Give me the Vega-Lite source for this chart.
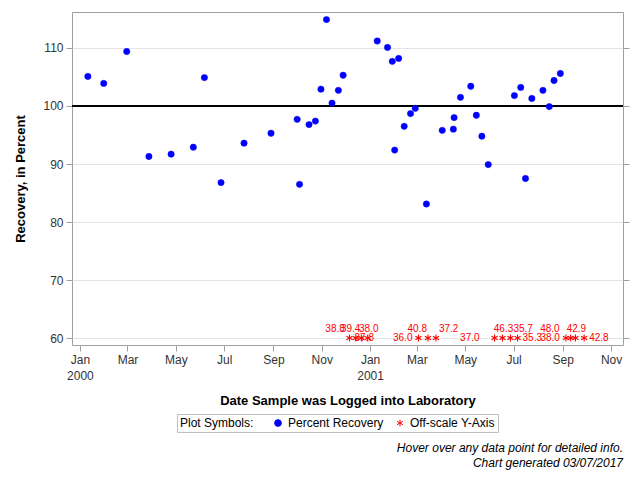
{
  "$schema": "https://vega.github.io/schema/vega-lite/v6.json",
  "width": 551,
  "height": 333,
  "autosize": {"type": "none"},
  "padding": {"left": 72, "top": 12, "right": 17, "bottom": 135},
  "background": "white",
  "title": {
    "text": "Hover over any data point for detailed info.",
    "subtitle": "Chart generated 03/07/2017",
    "orient": "bottom",
    "anchor": "end",
    "frame": "group",
    "font": "Liberation Sans",
    "fontStyle": "italic",
    "fontWeight": "normal",
    "fontSize": 12,
    "color": "black",
    "subtitleFont": "Liberation Sans",
    "subtitleFontStyle": "italic",
    "subtitleFontSize": 12,
    "subtitleColor": "black",
    "subtitlePadding": 3,
    "offset": 10
  },
  "data": {
    "format": {"parse": {"date": "date:'%Y-%m-%d'"}},
    "values": [
      {"date": "2000-01-11", "value": 105.1, "type": "Percent Recovery"},
      {"date": "2000-01-31", "value": 103.9, "type": "Percent Recovery"},
      {"date": "2000-02-29", "value": 109.4, "type": "Percent Recovery"},
      {"date": "2000-03-28", "value": 91.3, "type": "Percent Recovery"},
      {"date": "2000-04-25", "value": 91.7, "type": "Percent Recovery"},
      {"date": "2000-05-23", "value": 92.9, "type": "Percent Recovery"},
      {"date": "2000-06-06", "value": 104.9, "type": "Percent Recovery"},
      {"date": "2000-06-27", "value": 86.8, "type": "Percent Recovery"},
      {"date": "2000-07-26", "value": 93.6, "type": "Percent Recovery"},
      {"date": "2000-08-29", "value": 95.3, "type": "Percent Recovery"},
      {"date": "2000-10-01", "value": 97.7, "type": "Percent Recovery"},
      {"date": "2000-10-04", "value": 86.5, "type": "Percent Recovery"},
      {"date": "2000-10-16", "value": 96.8, "type": "Percent Recovery"},
      {"date": "2000-10-24", "value": 97.4, "type": "Percent Recovery"},
      {"date": "2000-10-31", "value": 102.9, "type": "Percent Recovery"},
      {"date": "2000-11-07", "value": 114.9, "type": "Percent Recovery"},
      {"date": "2000-11-14", "value": 100.5, "type": "Percent Recovery"},
      {"date": "2000-11-22", "value": 102.7, "type": "Percent Recovery"},
      {"date": "2000-11-28", "value": 105.3, "type": "Percent Recovery"},
      {"date": "2001-01-10", "value": 111.2, "type": "Percent Recovery"},
      {"date": "2001-01-23", "value": 110.1, "type": "Percent Recovery"},
      {"date": "2001-01-29", "value": 107.7, "type": "Percent Recovery"},
      {"date": "2001-02-01", "value": 92.4, "type": "Percent Recovery"},
      {"date": "2001-02-06", "value": 108.2, "type": "Percent Recovery"},
      {"date": "2001-02-13", "value": 96.5, "type": "Percent Recovery"},
      {"date": "2001-02-21", "value": 98.7, "type": "Percent Recovery"},
      {"date": "2001-02-27", "value": 99.6, "type": "Percent Recovery"},
      {"date": "2001-03-13", "value": 83.1, "type": "Percent Recovery"},
      {"date": "2001-04-02", "value": 95.8, "type": "Percent Recovery"},
      {"date": "2001-04-16", "value": 96.0, "type": "Percent Recovery"},
      {"date": "2001-04-17", "value": 98.0, "type": "Percent Recovery"},
      {"date": "2001-04-25", "value": 101.5, "type": "Percent Recovery"},
      {"date": "2001-05-08", "value": 103.4, "type": "Percent Recovery"},
      {"date": "2001-05-15", "value": 98.4, "type": "Percent Recovery"},
      {"date": "2001-05-22", "value": 94.8, "type": "Percent Recovery"},
      {"date": "2001-05-30", "value": 89.9, "type": "Percent Recovery"},
      {"date": "2001-07-02", "value": 101.8, "type": "Percent Recovery"},
      {"date": "2001-07-10", "value": 103.2, "type": "Percent Recovery"},
      {"date": "2001-07-16", "value": 87.5, "type": "Percent Recovery"},
      {"date": "2001-07-24", "value": 101.3, "type": "Percent Recovery"},
      {"date": "2001-08-07", "value": 102.7, "type": "Percent Recovery"},
      {"date": "2001-08-15", "value": 99.9, "type": "Percent Recovery"},
      {"date": "2001-08-21", "value": 104.4, "type": "Percent Recovery"},
      {"date": "2001-08-29", "value": 105.6, "type": "Percent Recovery"},
      {"date": "2000-12-06", "value": 37.8, "type": "Off-scale Y-Axis"},
      {"date": "2000-12-14", "value": 38.8, "type": "Off-scale Y-Axis"},
      {"date": "2000-12-21", "value": 39.4, "type": "Off-scale Y-Axis"},
      {"date": "2000-12-29", "value": 38.0, "type": "Off-scale Y-Axis"},
      {"date": "2001-03-03", "value": 36.0, "type": "Off-scale Y-Axis"},
      {"date": "2001-03-15", "value": 40.8, "type": "Off-scale Y-Axis"},
      {"date": "2001-03-25", "value": 37.2, "type": "Off-scale Y-Axis"},
      {"date": "2001-06-07", "value": 37.0, "type": "Off-scale Y-Axis"},
      {"date": "2001-06-17", "value": 46.3, "type": "Off-scale Y-Axis"},
      {"date": "2001-06-27", "value": 35.7, "type": "Off-scale Y-Axis"},
      {"date": "2001-07-06", "value": 35.3, "type": "Off-scale Y-Axis"},
      {"date": "2001-09-05", "value": 38.0, "type": "Off-scale Y-Axis"},
      {"date": "2001-09-11", "value": 48.0, "type": "Off-scale Y-Axis"},
      {"date": "2001-09-17", "value": 42.9, "type": "Off-scale Y-Axis"},
      {"date": "2001-09-28", "value": 42.8, "type": "Off-scale Y-Axis"}
    ]
  },
  "layer": [
    {
      "mark": {"type": "rule", "color": "black", "strokeWidth": 1},
      "encoding": {
        "y": {
          "datum": 100,
          "type": "quantitative",
          "title": null,
          "scale": {"domain": [58.8, 116.204], "nice": false, "zero": false},
          "axis": {
            "orient": "right",
            "values": [60, 70, 80, 90, 100, 110],
            "labels": false,
            "grid": false,
            "domain": false,
            "tickSize": 6,
            "title": null
          }
        }
      }
    },
    {
      "encoding": {
        "x": {
          "field": "date",
          "type": "temporal",
          "title": "Date Sample was Logged into Laboratory",
          "scale": {
            "domain": [
              {"year": 1999, "month": 12, "date": 22},
              {"year": 2001, "month": 11, "date": 16}
            ],
            "nice": false
          },
          "axis": {
            "values": [
              {"year": 2000, "month": 1, "date": 1},
              {"year": 2000, "month": 3, "date": 1},
              {"year": 2000, "month": 5, "date": 1},
              {"year": 2000, "month": 7, "date": 1},
              {"year": 2000, "month": 9, "date": 1},
              {"year": 2000, "month": 11, "date": 1},
              {"year": 2001, "month": 1, "date": 1},
              {"year": 2001, "month": 3, "date": 1},
              {"year": 2001, "month": 5, "date": 1},
              {"year": 2001, "month": 7, "date": 1},
              {"year": 2001, "month": 9, "date": 1},
              {"year": 2001, "month": 11, "date": 1}
            ],
            "labelExpr": "month(datum.value) == 0 ? [timeFormat(datum.value, '%b'), timeFormat(datum.value, '%Y')] : timeFormat(datum.value, '%b')",
            "labelLineHeight": 16,
            "grid": false,
            "domain": false,
            "tickSize": 6,
            "labelPadding": 3,
            "titlePadding": 13
          }
        }
      },
      "layer": [
        {
          "transform": [{"filter": "datum.type == 'Percent Recovery'"}],
          "mark": {"type": "point", "filled": true, "size": 40, "strokeWidth": 0.5, "opacity": 1},
          "encoding": {
            "y": {
              "field": "value",
              "type": "quantitative",
              "title": "Recovery, in Percent",
              "scale": {"domain": [58.8, 116.204], "nice": false, "zero": false},
              "axis": {
                "orient": "left",
                "values": [60, 70, 80, 90, 100, 110],
                "grid": true,
                "domain": false,
                "tickSize": 6,
                "labelPadding": 3,
                "titlePadding": 15
              }
            },
            "fill": {
              "field": "type",
              "type": "nominal",
              "title": "Plot Symbols:",
              "scale": {"domain": ["Percent Recovery", "Off-scale Y-Axis"], "range": ["#0000ff", "#ff0000"]}
            },
            "stroke": {
              "field": "type",
              "type": "nominal",
              "title": "Plot Symbols:",
              "scale": {"domain": ["Percent Recovery", "Off-scale Y-Axis"], "range": ["#0000ff", "#ff0000"]}
            },
            "shape": {
              "field": "type",
              "type": "nominal",
              "title": "Plot Symbols:",
              "scale": {
                "domain": ["Percent Recovery", "Off-scale Y-Axis"],
                "range": ["circle", "M0,-1L0,1M-0.866,-0.5L0.866,0.5M-0.866,0.5L0.866,-0.5"]
              }
            }
          }
        },
        {
          "transform": [{"filter": "datum.type == 'Off-scale Y-Axis'"}],
          "mark": {"type": "point", "filled": false, "size": 50, "strokeWidth": 1.1, "opacity": 1},
          "encoding": {
            "y": {
              "datum": 60,
              "type": "quantitative",
              "scale": {"domain": [58.8, 116.204], "nice": false, "zero": false},
              "axis": null
            },
            "fill": {
              "field": "type",
              "type": "nominal",
              "title": "Plot Symbols:",
              "scale": {"domain": ["Percent Recovery", "Off-scale Y-Axis"], "range": ["#0000ff", "#ff0000"]}
            },
            "stroke": {
              "field": "type",
              "type": "nominal",
              "title": "Plot Symbols:",
              "scale": {"domain": ["Percent Recovery", "Off-scale Y-Axis"], "range": ["#0000ff", "#ff0000"]}
            },
            "shape": {
              "field": "type",
              "type": "nominal",
              "title": "Plot Symbols:",
              "scale": {
                "domain": ["Percent Recovery", "Off-scale Y-Axis"],
                "range": ["circle", "M0,-1L0,1M-0.866,-0.5L0.866,0.5M-0.866,0.5L0.866,-0.5"]
              }
            }
          }
        },
        {
          "transform": [{"filter": "datum.type == 'Off-scale Y-Axis' && indexof(['2000-12-14','2001-09-11'], timeFormat(datum.date, '%Y-%m-%d')) >= 0"}],
          "mark": {"type": "text", "color": "#ff0000", "font": "Liberation Sans", "fontSize": 10, "align": "right", "baseline": "middle", "dx": -11, "dy": -9},
          "encoding": {
            "y": {"datum": 60, "type": "quantitative", "scale": {"domain": [58.8, 116.204], "nice": false, "zero": false}, "axis": null},
            "text": {"field": "value", "type": "quantitative", "format": ".1f"}
          }
        },
        {
          "transform": [{"filter": "datum.type == 'Off-scale Y-Axis' && indexof(['2000-12-21','2001-03-15'], timeFormat(datum.date, '%Y-%m-%d')) >= 0"}],
          "mark": {"type": "text", "color": "#ff0000", "font": "Liberation Sans", "fontSize": 10, "align": "right", "baseline": "middle", "dx": -1, "dy": -9},
          "encoding": {
            "y": {"datum": 60, "type": "quantitative", "scale": {"domain": [58.8, 116.204], "nice": false, "zero": false}, "axis": null},
            "text": {"field": "value", "type": "quantitative", "format": ".1f"}
          }
        },
        {
          "transform": [{"filter": "datum.type == 'Off-scale Y-Axis' && indexof(['2000-12-29','2001-06-17','2001-09-17'], timeFormat(datum.date, '%Y-%m-%d')) >= 0"}],
          "mark": {"type": "text", "color": "#ff0000", "font": "Liberation Sans", "fontSize": 10, "align": "center", "baseline": "middle", "dx": 1, "dy": -9},
          "encoding": {
            "y": {"datum": 60, "type": "quantitative", "scale": {"domain": [58.8, 116.204], "nice": false, "zero": false}, "axis": null},
            "text": {"field": "value", "type": "quantitative", "format": ".1f"}
          }
        },
        {
          "transform": [{"filter": "datum.type == 'Off-scale Y-Axis' && indexof(['2001-03-25','2001-06-27'], timeFormat(datum.date, '%Y-%m-%d')) >= 0"}],
          "mark": {"type": "text", "color": "#ff0000", "font": "Liberation Sans", "fontSize": 10, "align": "left", "baseline": "middle", "dx": 3, "dy": -9},
          "encoding": {
            "y": {"datum": 60, "type": "quantitative", "scale": {"domain": [58.8, 116.204], "nice": false, "zero": false}, "axis": null},
            "text": {"field": "value", "type": "quantitative", "format": ".1f"}
          }
        },
        {
          "transform": [{"filter": "datum.type == 'Off-scale Y-Axis' && indexof(['2001-03-03','2001-09-05'], timeFormat(datum.date, '%Y-%m-%d')) >= 0"}],
          "mark": {"type": "text", "color": "#ff0000", "font": "Liberation Sans", "fontSize": 10, "align": "right", "baseline": "middle", "dx": -6, "dy": 0},
          "encoding": {
            "y": {"datum": 60, "type": "quantitative", "scale": {"domain": [58.8, 116.204], "nice": false, "zero": false}, "axis": null},
            "text": {"field": "value", "type": "quantitative", "format": ".1f"}
          }
        },
        {
          "transform": [{"filter": "datum.type == 'Off-scale Y-Axis' && indexof(['2001-06-07'], timeFormat(datum.date, '%Y-%m-%d')) >= 0"}],
          "mark": {"type": "text", "color": "#ff0000", "font": "Liberation Sans", "fontSize": 10, "align": "right", "baseline": "middle", "dx": -15, "dy": 0},
          "encoding": {
            "y": {"datum": 60, "type": "quantitative", "scale": {"domain": [58.8, 116.204], "nice": false, "zero": false}, "axis": null},
            "text": {"field": "value", "type": "quantitative", "format": ".1f"}
          }
        },
        {
          "transform": [{"filter": "datum.type == 'Off-scale Y-Axis' && indexof(['2000-12-06','2001-07-06','2001-09-28'], timeFormat(datum.date, '%Y-%m-%d')) >= 0"}],
          "mark": {"type": "text", "color": "#ff0000", "font": "Liberation Sans", "fontSize": 10, "align": "left", "baseline": "middle", "dx": 5, "dy": 0},
          "encoding": {
            "y": {"datum": 60, "type": "quantitative", "scale": {"domain": [58.8, 116.204], "nice": false, "zero": false}, "axis": null},
            "text": {"field": "value", "type": "quantitative", "format": ".1f"}
          }
        }
      ],
      "resolve": {"axis": {"y": "independent"}, "scale": {"y": "shared"}}
    }
  ],
  "resolve": {"axis": {"y": "independent"}, "scale": {"y": "shared"}},
  "config": {
    "font": "Liberation Sans",
    "view": {"stroke": "#a0a0a0", "strokeWidth": 1},
    "axis": {
      "labelFont": "Liberation Sans",
      "labelFontSize": 12,
      "labelColor": "#333333",
      "tickColor": "#a0a0a0",
      "gridColor": "#e4e4e4",
      "titleFont": "Liberation Sans",
      "titleFontSize": 13,
      "titleFontWeight": "bold",
      "titleColor": "black"
    },
    "legend": {
      "orient": "none",
      "legendX": 105,
      "legendY": 402,
      "direction": "horizontal",
      "titleOrient": "left",
      "titleFont": "Liberation Sans",
      "titleFontSize": 12,
      "titleFontWeight": "normal",
      "titleColor": "black",
      "titlePadding": 18,
      "labelFont": "Liberation Sans",
      "labelFontSize": 12,
      "labelColor": "black",
      "strokeColor": "#c0c0c0",
      "padding": 3,
      "symbolSize": 45,
      "symbolStrokeWidth": 1,
      "columnPadding": 10
    }
  }
}
